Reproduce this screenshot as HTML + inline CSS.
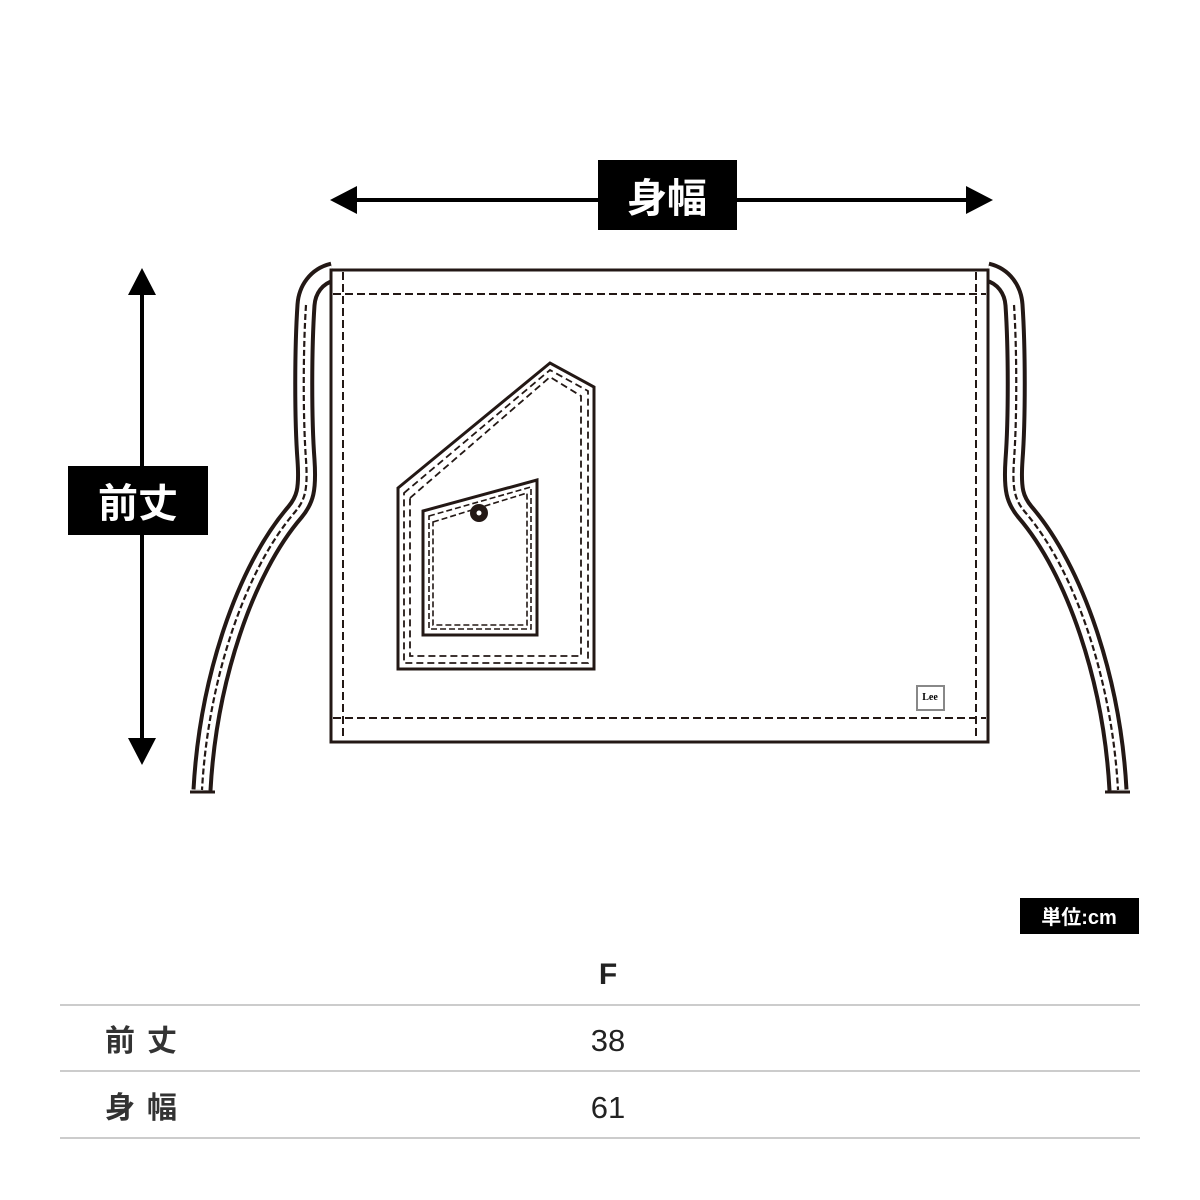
<!DOCTYPE html>
<html><head><meta charset="utf-8"><style>
body{margin:0;background:#fff;width:1200px;height:1200px;overflow:hidden;position:relative;font-family:"Liberation Sans","Noto Sans CJK JP",sans-serif}
</style></head><body>
<svg width="1200" height="1200" style="position:absolute;left:0;top:0">
<defs>
<g id="strap">
<path d="M333,272 C316,276 307,290 306,305 C303,350 303,420 306,460 C308,490 305,500 295,512 C245,570 208,680 202,790" fill="none" stroke="#231815" stroke-width="21"/>
<path d="M333,272 C316,276 307,290 306,305 C303,350 303,420 306,460 C308,490 305,500 295,512 C245,570 208,680 202,790" fill="none" stroke="#fff" stroke-width="13"/>
<path d="M306,305 C303,350 303,420 306,460 C308,490 305,500 295,512 C245,570 208,680 202,790" fill="none" stroke="#231815" stroke-width="2.2" stroke-dasharray="6,3"/>
<line x1="190" y1="792" x2="215" y2="792" stroke="#231815" stroke-width="3"/>
<line x1="190" y1="800" x2="215" y2="800" stroke="#fff" stroke-width="13"/>
</g>
</defs>
<use href="#strap"/>
<use href="#strap" transform="translate(1320,0) scale(-1,1)"/>
<rect x="331" y="270" width="657" height="472" fill="#fff" stroke="#231815" stroke-width="3"/>
<g stroke="#231815" stroke-width="2" stroke-dasharray="8,4" fill="none">
<line x1="343" y1="272" x2="343" y2="740"/>
<line x1="976" y1="272" x2="976" y2="740"/>
<line x1="333" y1="294" x2="986" y2="294"/>
<line x1="333" y1="718" x2="986" y2="718"/>
</g>
<polygon points="398,488 550,363 594,387 594,669 398,669" fill="#fff" stroke="#231815" stroke-width="3"/>
<polygon points="404,493 550,370 588,391 588,663 404,663" fill="none" stroke="#231815" stroke-width="1.8" stroke-dasharray="7,4"/>
<polygon points="410,498 550,377 581,396 581,656 410,656" fill="none" stroke="#231815" stroke-width="1.8" stroke-dasharray="7,4"/>
<polygon points="423,511 537,480 537,635 423,635" fill="#fff" stroke="#231815" stroke-width="3"/>
<polygon points="429,516 531,487 531,629 429,629" fill="none" stroke="#231815" stroke-width="1.6" stroke-dasharray="6,3"/>
<polygon points="433,522 527,493 527,625 433,625" fill="none" stroke="#231815" stroke-width="1.6" stroke-dasharray="6,3"/>
<circle cx="479" cy="513" r="9" fill="#231815"/><circle cx="479" cy="513" r="2.5" fill="#fff"/>
<rect x="917" y="686" width="27" height="24" fill="#fff" stroke="#888" stroke-width="2"/>
<text x="930" y="700" font-size="10" font-weight="bold" text-anchor="middle" font-family="Liberation Serif">Lee</text>
<line x1="340" y1="200" x2="985" y2="200" stroke="#000" stroke-width="4"/>
<polygon points="330,200 357,186 357,214" fill="#000"/>
<polygon points="993,200 966,186 966,214" fill="#000"/>
<rect x="598" y="160" width="139" height="70" fill="#000"/>
<text x="667" y="212" font-size="40" font-weight="bold" fill="#fff" text-anchor="middle" font-family="Noto Sans CJK JP">身幅</text>
<line x1="142" y1="280" x2="142" y2="755" stroke="#000" stroke-width="4"/>
<polygon points="142,268 128,295 156,295" fill="#000"/>
<polygon points="142,765 128,738 156,738" fill="#000"/>
<rect x="68" y="466" width="140" height="69" fill="#000"/>
<text x="138" y="517" font-size="40" font-weight="bold" fill="#fff" text-anchor="middle" font-family="Noto Sans CJK JP">前丈</text>
<rect x="1020" y="898" width="119" height="36" fill="#000"/>
<text x="1079" y="924" font-size="20" font-weight="bold" fill="#fff" text-anchor="middle" font-family="Liberation Sans,Noto Sans CJK JP">単位:cm</text>
<g stroke="#bbb" stroke-width="1.5"><line x1="60" y1="1005" x2="1140" y2="1005"/><line x1="60" y1="1071" x2="1140" y2="1071"/><line x1="60" y1="1138" x2="1140" y2="1138"/></g>
<text x="608" y="984" font-size="30" font-weight="bold" text-anchor="middle" fill="#222">F</text>
<text x="105" y="1051" font-size="30" font-weight="bold" letter-spacing="12" fill="#333" font-family="Noto Sans CJK JP">前丈</text>
<text x="105" y="1118" font-size="30" font-weight="bold" letter-spacing="12" fill="#333" font-family="Noto Sans CJK JP">身幅</text>
<text x="608" y="1051" font-size="31" text-anchor="middle" fill="#222">38</text>
<text x="608" y="1118" font-size="31" text-anchor="middle" fill="#222">61</text>
</svg>
</body></html>
